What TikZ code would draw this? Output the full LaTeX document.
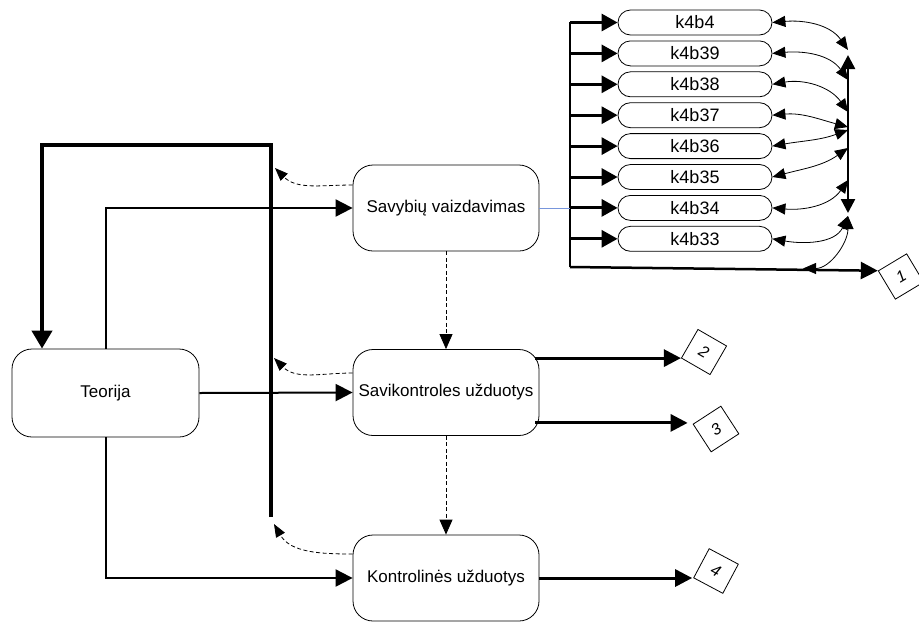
\documentclass[tikz,border=0pt]{standalone}
\usepackage{fontspec}
\setmainfont{Liberation Sans}
\usetikzlibrary{arrows.meta,calc}
\definecolor{linkblue}{RGB}{120,150,220}

\tikzset{
  stage/.style={draw, line width=0.8pt, rounded corners=20pt, minimum width=186pt,
    minimum height=86pt, inner sep=0pt, font=\fontsize{17}{20}\selectfont},
  kbox/.style={draw, line width=0.8pt, rounded corners=12.5pt, minimum width=154pt,
    minimum height=25pt, inner sep=0pt, font=\fontsize{18}{20}\selectfont},
  tag/.style={draw, line width=0.8pt, minimum size=33pt, inner sep=0pt,
    font=\fontsize{16}{18}\selectfont\itshape},
  bigtip/.tip={Triangle[length=17pt,width=17pt]},
  feed/.style={line width=2pt, -bigtip},
  outflow/.style={line width=3pt, -bigtip},
  rowflow/.style={line width=3pt, -{Triangle[length=16pt,width=17pt]}},
  loop/.style={line width=4pt, -{Triangle[length=18pt,width=20pt]}},
  back/.style={line width=0.8pt, dash pattern=on 4pt off 2.5pt,
    -{Triangle[length=13pt,width=10pt]}},
  down/.style={line width=0.8pt, dash pattern=on 4pt off 2.5pt,
    -{Triangle[length=15pt,width=13pt]}},
  kcurve/.style={line width=0.8pt,
    {Triangle[length=13pt,width=11pt]}-{Triangle[length=13pt,width=11pt]}},
  bus/.style={line width=2.5pt,
    {Triangle[length=14pt,width=14pt]}-{Triangle[length=14pt,width=14pt]}},
}

\begin{document}
\begin{tikzpicture}[x=1pt,y=1pt]
\useasboundingbox (0,0) rectangle (919,-622);

% main stages
\node[stage, minimum width=187pt, minimum height=88pt] (te) at (105.5,-393) {Teorija};
\node[stage] (sv) at (446,-208) {Savybių vaizdavimas};
\node[stage] (sk) at (446,-392.5) {Savikontroles užduotys};
\node[stage] (kt) at (446,-578) {Kontrolinės užduotys};

% numbered result tags
\node[tag, rotate=31]  (d1) at (901,-276.5) {1};
\node[tag, rotate=-30] (d2) at (704,-352) {2};
\node[tag, rotate=33]  (d3) at (716,-429) {3};
\node[tag, rotate=-28] (d4) at (716,-571) {4};

% item boxes
\foreach \lbl [count=\i from 0] in {k4b4,k4b39,k4b38,k4b37,k4b36,k4b35,k4b34,k4b33}
  \node[kbox] (k\i) at (695,{-22.5-30.9*\i}) {\lbl};

% feed rail on the left of the item boxes
\coordinate (railtop) at (570,-22);
\coordinate (railbot) at (570,-267);
\draw[line width=2pt] (railtop) -- (railbot);
\foreach \i in {0,...,7}
  \draw[rowflow] (k\i.west -| railtop) -- (k\i.west);
\draw[line width=2.5pt, -bigtip] (railbot) -- (d1.north west);
\draw[line width=0.8pt, linkblue] (sv.east) -- (sv.east -| railtop);

% collecting bus on the right
\coordinate (bustop) at (848,-55);
\coordinate (busbot) at (848,-213);
\draw[bus] (busbot) -- (bustop);
\foreach \y [count=\i from 0] in {50,80,112,127,130,148,180,216}
  \coordinate (j\i) at (848,-\y);
\draw[kcurve] (k0.east) to[out=5,in=125]   (j0);
\draw[kcurve] (k1.east) to[out=5,in=125]   (j1);
\draw[kcurve] (k2.east) to[out=10,in=125]  (j2);
\draw[kcurve] (k3.east) to[out=5,in=165]   (j3);
\draw[kcurve] (k4.east) to[out=10,in=200]  (j4);
\draw[kcurve] (k5.east) to[out=15,in=215]  (j5);
\draw[kcurve] (k6.east) to[out=-5,in=235]  (j6);
\draw[kcurve] (k7.east) to[out=-10,in=245] (j7);
\coordinate (jb) at (803,-268.5);
\draw[kcurve] (jb) to[out=0,in=-90] (j7);

% return loop back to the theory block
\coordinate (loopend) at (271,-517);
\coordinate (loopcorner) at (42,-145);
\draw[loop] (loopend) |- (loopcorner) -- (loopcorner |- te.north);

% theory feeds the three activities
\draw[feed] (te.north) |- (sv.west);
\draw[feed] (te.east) -- (sk.west);
\draw[feed] (te.south) |- (kt.west);

% dashed returns to the loop
\coordinate (r1) at (275,-168);
\coordinate (r2) at (274,-358);
\coordinate (r3) at (274,-524);
\draw[back] ([yshift=23pt]sv.west) to[out=180,in=-45] (r1);
\draw[back] ([yshift=19.5pt]sk.west) to[out=180,in=-45] (r2);
\draw[back] ([yshift=24pt]kt.west) to[out=180,in=-60] (r3);

% dashed sequence
\draw[down] (sv.south) -- (sk.north);
\draw[down] (sk.south) -- (kt.north);

% results
\coordinate (o2) at ([xshift=-4pt,yshift=-9pt]sk.north east);
\coordinate (o3) at ([xshift=-4pt,yshift=13pt]sk.south east);
\draw[outflow] (o2) -- (o2 -| d2.south west);
\draw[outflow, shorten >=5pt] (o3) -- (o3 -| d3.north west);
\draw[outflow, shorten >=1pt] (kt.east) -- (kt.east -| d4.south west);
\end{tikzpicture}
\end{document}
